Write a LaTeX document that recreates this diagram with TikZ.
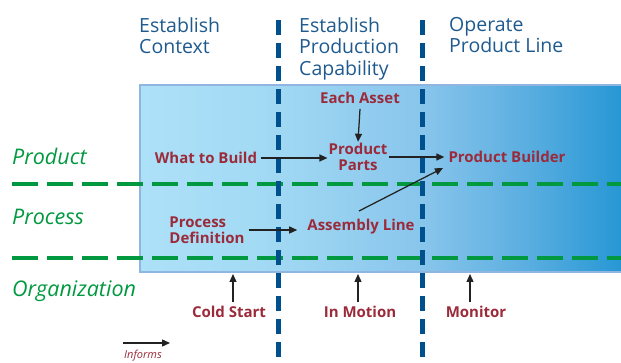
\documentclass[tikz,border=0pt]{standalone}
\usepackage{fontspec}
\setmainfont{Open Sans}
\usetikzlibrary{arrows.meta}
\definecolor{hdr}{HTML}{1F5A8F}
\definecolor{vline}{HTML}{00508E}
\definecolor{gline}{HTML}{00993F}
\definecolor{lblc}{HTML}{9B2B3A}
\definecolor{arr}{HTML}{222222}
\definecolor{rborder}{HTML}{8FB5E0}
\definecolor{s1}{HTML}{ADE1F8}
\definecolor{s2}{HTML}{A0D8F3}
\definecolor{s3}{HTML}{88C5EC}
\definecolor{s4}{HTML}{5AAEE0}
\definecolor{s5}{HTML}{2295D3}
\pgfdeclarehorizontalshading{bgshade}{100bp}{color(0bp)=(s1); color(25bp)=(s1); color(39.5bp)=(s2); color(54bp)=(s3); color(64.5bp)=(s4); color(75bp)=(s5); color(100bp)=(s5)}
\tikzset{
  hdrtext/.style={font=\fontsize{19.5}{21.5}\selectfont, text=hdr, align=left, anchor=north west, inner sep=0pt},
  lanetext/.style={font=\fontsize{21.5}{24}\selectfont\itshape, text=gline, anchor=west, inner sep=0pt},
  lbl/.style={font=\fontsize{15}{16.5}\selectfont\bfseries, text=lblc, inner sep=1pt},
  informs/.style={-{Triangle[length=8pt,width=7pt]}, draw=arr, line width=1.25pt},
  vdash/.style={draw=vline, line width=4.5pt, dash pattern=on 15pt off 8pt},
  gdash/.style={draw=gline, line width=4pt, dash pattern=on 26pt off 9pt},
}
\begin{document}
\begin{tikzpicture}[x=1pt,y=-1pt]
\clip (0,0) rectangle (621,363);
\fill[white] (0,0) rectangle (621,363);
% background panel
\shade[shading=bgshade] (140,85) rectangle (630,272);
\draw[rborder, line width=2pt] (630,85) -- (140,85) -- (140,272) -- (630,272);
% green lane lines
\draw[gdash] (12,184) -- (630,184);
\draw[gdash] (12,258) -- (630,258);
% blue phase lines
\draw[vdash] (278.5,20) -- (278.5,370);
\draw[vdash] (422.5,20) -- (422.5,370);
% headers
\node[hdrtext] (h1) at (139,17) {Establish\\Context};
\node[hdrtext] (h2) at (299,17) {Establish\\Production\\Capability};
\node[hdrtext] (h3) at (449,17) {Operate\\Product Line};
% lane labels
\node[lanetext] (lprod) at (12,156) {Product};
\node[lanetext] (lproc) at (12,217) {Process};
\node[lanetext] (lorg) at (12,291) {Organization};
% labels
\node[lbl] (ea) at (360,98) {Each Asset};
\node[lbl, align=center] (pp) at (358,157) {Product\\Parts};
\node[lbl] (wtb) at (206,158) {What to Build};
\node[lbl] (pb) at (507,157) {Product Builder};
\node[lbl, align=left] (pd) at (207,230) {Process\\Definition};
\node[lbl] (asm) at (361,227) {Assembly Line};
\node[lbl] (cs) at (229,312) {Cold Start};
\node[lbl] (im) at (360,312) {In Motion};
\node[lbl] (mo) at (476,312) {Monitor};
\node[font=\fontsize{11}{13}\selectfont\itshape, text=lblc, inner sep=0pt] (inf) at (143,356) {Informs};
% coordinates
\coordinate (diagA) at (359,211);
\coordinate (diagB) at (443,168);
\coordinate (csT) at (233,274);
\coordinate (imT) at (358,274);
\coordinate (moT) at (470,274);
\coordinate (legA) at (123,343);
\coordinate (legB) at (170,343);
% arrows
\draw[informs] (wtb.east) ++(3,0) -- (pp.west |- wtb.east);
\draw[informs] (ea.south) ++(0,4) -- (pp.north);
\draw[informs] (pp.east |- pb.west) -- ([xshift=-3pt]pb.west);
\draw[informs] ([xshift=3pt]pd.east) -- ([xshift=-9pt]asm.west |- pd.east);
\draw[informs] (diagA) -- (diagB);
\draw[informs] (cs.north -| csT) ++(0,-3) -- (csT);
\draw[informs] (im.north -| imT) ++(0,-3) -- (imT);
\draw[informs] (mo.north -| moT) ++(0,-3) -- (moT);
\draw[informs] (legA) -- (legB);
\end{tikzpicture}
\end{document}
